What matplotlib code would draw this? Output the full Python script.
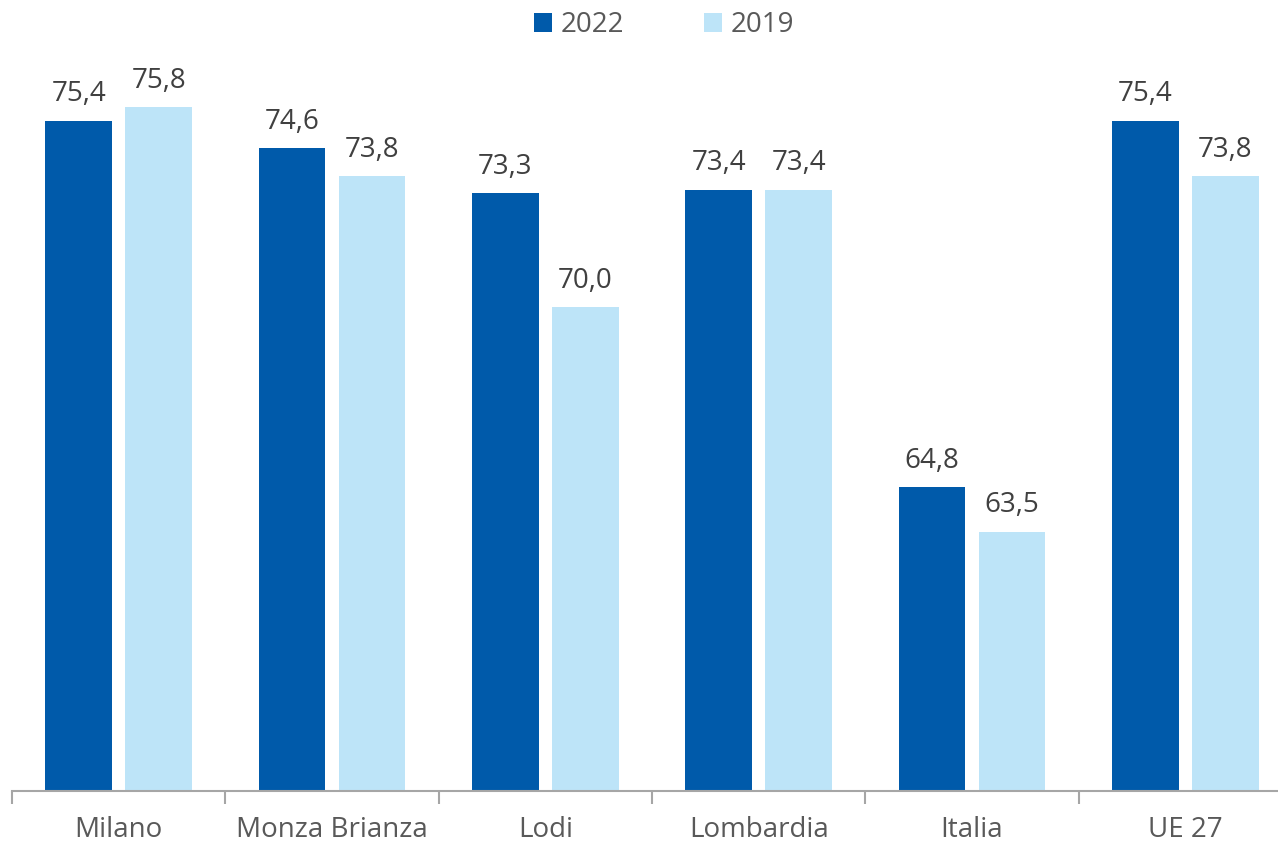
from matplotlib import pyplot as plt
import numpy as np

categories = ['Milano', 'Monza Brianza', 'Lodi', 'Lombardia', 'Italia', 'UE 27']
values_2022 = [75.4, 74.6, 73.3, 73.4, 64.8, 75.4]
values_2019 = [75.8, 73.8, 70.0, 73.4, 63.5, 73.8]

DARK = '#005AAA'
LIGHT = '#BDE4F8'
GREY = '#595959'

plt.rcParams['font.family'] = ['Open Sans', 'DejaVu Sans']

fig = plt.figure(figsize=(12.78, 8.43), dpi=100)
ax = fig.add_axes([12 / 1278, 1 - 791 / 843, 1280 / 1278, 760 / 843])

x = np.arange(len(categories))
w = 0.314
off = 0.1875
b1 = ax.bar(x - off, values_2022, w, color=DARK, label='2022')
b2 = ax.bar(x + off, values_2019, w, color=LIGHT, label='2019')

for bars, vals in ((b1, values_2022), (b2, values_2019)):
    for rect, v in zip(bars, vals):
        ax.annotate(f'{v:.1f}'.replace('.', ','),
                    (rect.get_x() + rect.get_width() / 2, v),
                    xytext=(0, 9), textcoords='offset points',
                    ha='center', va='bottom', fontsize=20, color='#404040')

ax.set_xlim(-0.5, len(categories) - 0.5)
ax.set_ylim(56, 78)
ax.set_yticks([])
for s in ('top', 'right', 'left'):
    ax.spines[s].set_visible(False)
ax.spines['bottom'].set_color('#A6A6A6')
ax.spines['bottom'].set_linewidth(1.5)

ax.set_xticks(np.arange(len(categories) + 1) - 0.5, minor=True)
ax.set_xticks(x)
ax.set_xticklabels(categories, fontsize=20, color=GREY)
ax.tick_params(axis='x', which='major', length=0, pad=18)
ax.tick_params(axis='x', which='minor', length=9, width=1.5, color='#A6A6A6')

fig.legend(handles=[b1, b2], loc='center', bbox_to_anchor=(664 / 1278, 1 - 25 / 843),
           ncol=2, frameon=False, fontsize=20, labelcolor=GREY,
           handlelength=0.65, handleheight=0.65, handletextpad=0.3, columnspacing=2.9,
           borderpad=0)

fig.savefig('out.png', dpi=100)
